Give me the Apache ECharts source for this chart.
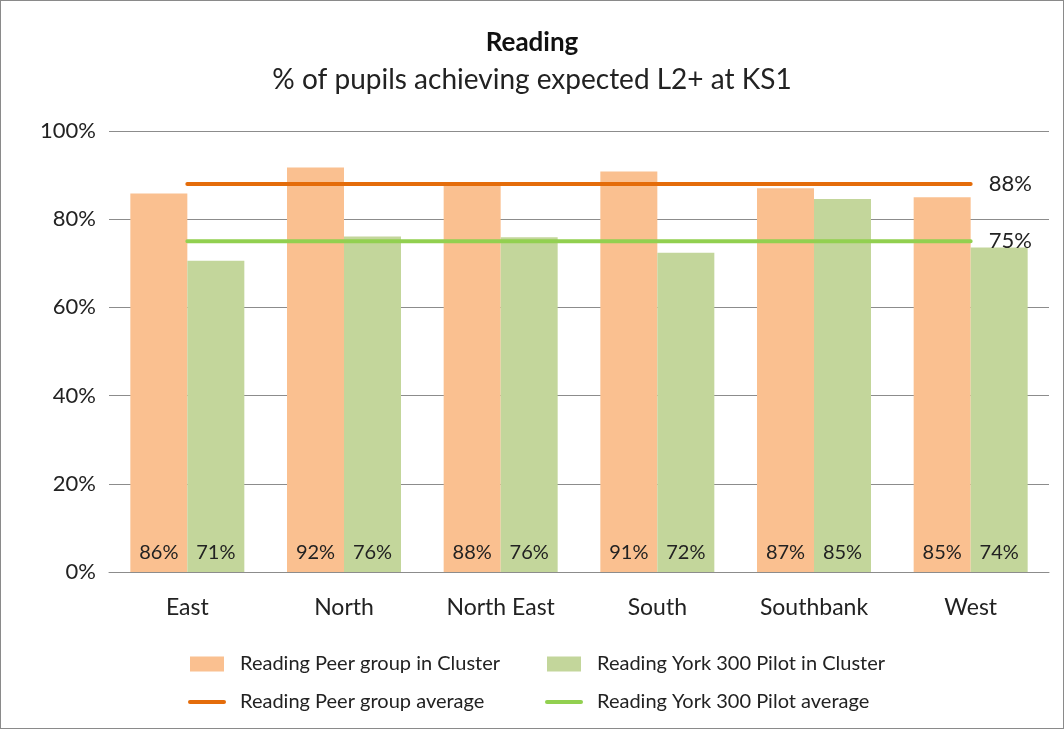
<!DOCTYPE html>
<html>
<head>
<meta charset="utf-8">
<script src="https://cdn.jsdelivr.net/npm/echarts@6/dist/echarts.min.js"></script>
<style>
  html, body { margin: 0; padding: 0; background: #fff; }
  #chart { width: 1062px; height: 727px; border: 1px solid #8a8a8a; }
</style>
</head>
<body>
<div id="chart"></div>
<script>
const categories = ['East', 'North', 'North East', 'South', 'Southbank', 'West'];
const peerCluster = [85.8, 91.7, 88.0, 90.8, 87.0, 85.0];
const yorkCluster = [70.6, 76.1, 75.9, 72.4, 84.6, 73.6];
const peerAverage = [88, 88, 88, 88, 88, 88];
const yorkAverage = [75, 75, 75, 75, 75, 75];

const fontFamily = 'Lato, "Open Sans", sans-serif';
const textColor = '#222';
const gridColor = '#8c8c8c';

const chart = echarts.init(document.getElementById('chart'));

const barLabel = {
  show: true,
  position: 'insideBottom',
  distance: 9,
  color: textColor,
  fontSize: 20,
  fontFamily,
  formatter: p => Math.round(p.value) + '%'
};

const avgLine = (name, data, color) => ({
  name,
  type: 'line',
  data,
  symbol: 'none',
  z: 5,
  lineStyle: { color, width: 4, cap: 'round' },
  itemStyle: { color },
  endLabel: {
    show: true,
    distance: 18,
    color: textColor,
    fontSize: 22,
    fontFamily,
    formatter: p => p.value + '%'
  }
});

// extra left padding so the text sits a bit away from the icon, like the original
const legendText = { fontSize: 20, color: textColor, fontFamily, padding: [0, 0, 0, 11] };

chart.setOption({
  animation: false,
  textStyle: { fontFamily },
  title: {
    text: 'Reading',
    subtext: '% of pupils achieving expected L2+ at KS1',
    left: 'center',
    top: 24,
    itemGap: 10,
    textStyle: { fontSize: 26, fontWeight: 'bold', color: '#111', fontFamily },
    subtextStyle: { fontSize: 28, color: '#222', fontFamily }
  },
  legend: [
    {
      orient: 'vertical',
      left: 182,
      top: 648,
      itemGap: 18,
      itemWidth: 34,
      itemHeight: 15,
      textStyle: legendText,
      data: [
        { name: 'Reading Peer group in Cluster', icon: 'rect' },
        { name: 'Reading Peer group average', itemStyle: { opacity: 0 }, lineStyle: { width: 4 } }
      ]
    },
    {
      orient: 'vertical',
      left: 539,
      top: 648,
      itemGap: 18,
      itemWidth: 34,
      itemHeight: 15,
      textStyle: legendText,
      data: [
        { name: 'Reading York 300 Pilot in Cluster', icon: 'rect' },
        { name: 'Reading York 300 Pilot average', itemStyle: { opacity: 0 }, lineStyle: { width: 4 } }
      ]
    }
  ],
  grid: { left: 108, right: 14, top: 130, bottom: 156, containLabel: false },
  xAxis: {
    type: 'category',
    data: categories,
    axisLine: { lineStyle: { color: gridColor } },
    axisTick: { show: false },
    axisLabel: { color: textColor, fontSize: 23, margin: 24, fontFamily }
  },
  yAxis: {
    type: 'value',
    min: 0,
    max: 100,
    interval: 20,
    axisLine: { show: false },
    axisTick: { show: false },
    axisLabel: { color: textColor, fontSize: 22, margin: 13, fontFamily, formatter: '{value}%' },
    splitLine: { lineStyle: { color: gridColor, width: 1 } }
  },
  series: [
    {
      name: 'Reading Peer group in Cluster',
      type: 'bar',
      data: peerCluster,
      barWidth: 57,
      barGap: '0%',
      itemStyle: { color: '#FAC090' },
      label: barLabel
    },
    {
      name: 'Reading York 300 Pilot in Cluster',
      type: 'bar',
      data: yorkCluster,
      barWidth: 57,
      barGap: '0%',
      itemStyle: { color: '#C3D69B' },
      label: barLabel
    },
    avgLine('Reading Peer group average', peerAverage, '#E46C0A'),
    avgLine('Reading York 300 Pilot average', yorkAverage, '#92D050')
  ]
});
</script>
</body>
</html>
